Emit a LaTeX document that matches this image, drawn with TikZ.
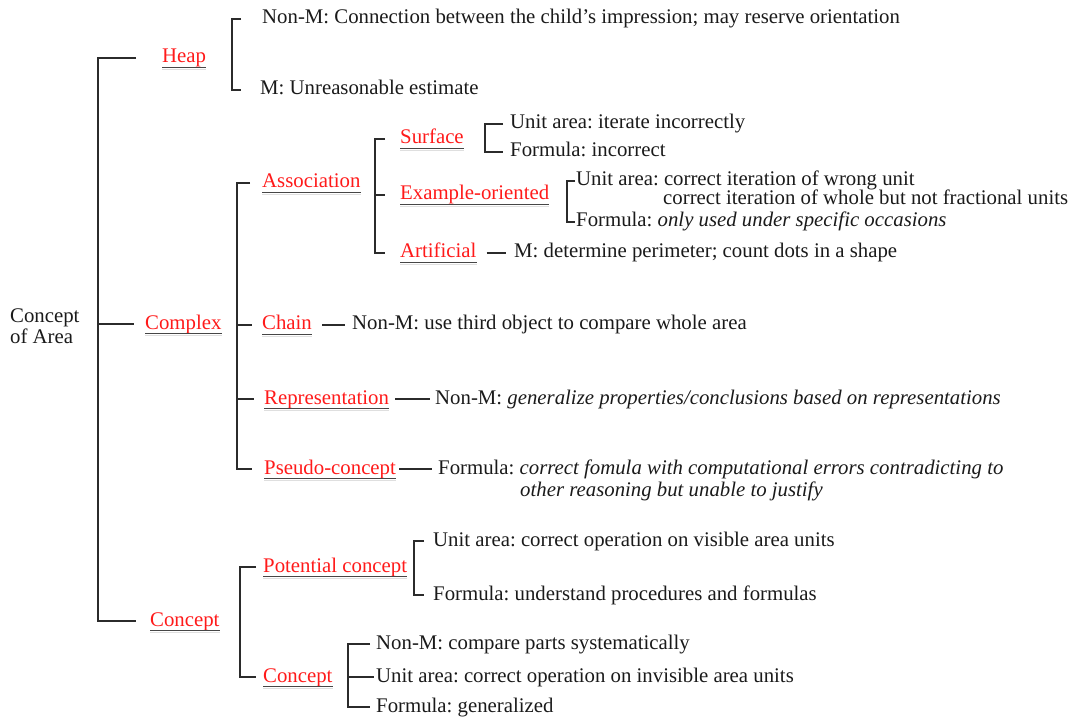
\documentclass[tikz,border=0pt]{standalone}
\usepackage{fontspec}
\setmainfont{Liberation Serif}
\usetikzlibrary{calc}
\definecolor{lblred}{HTML}{FF1A1A}
\definecolor{ln}{HTML}{2B2B2B}
\definecolor{txt}{HTML}{1A1A1A}
\frenchspacing
\begin{document}
\begin{tikzpicture}[x=1pt,y=-1pt,
  every node/.style={inner sep=0pt, anchor=west, font=\fontsize{20.8}{21}\selectfont, text=txt},
  item/.style={text height=14.5pt, text depth=4.5pt},
  lbl/.style={item, text=lblred},
  conn/.style={draw=ln, line width=2.5pt},
  uline/.style={draw=gray!55!black, line width=1.5pt},
  ushadow/.style={draw=gray!25, line width=1.5pt}]
\useasboundingbox (0,0) rectangle (1068,719);
% nodes
\node[align=left] (root) at (10,326) {Concept\\of Area};
\node[lbl] (heap) at (162,58) {Heap};
\node[lbl] (complex) at (145,324) {Complex};
\node[lbl] (concept) at (150,621) {Concept};
\node[item] (heapA) at (262,19) {Non-M: Connection between the child’s impression; may reserve orientation};
\node[item] (heapB) at (260,90) {M: Unreasonable estimate};
\node[lbl] (assoc) at (262,183) {Association};
\node[lbl] (chain) at (262,325) {Chain};
\node[lbl] (rep) at (264,399) {Representation};
\node[lbl] (pseudo) at (264,469) {Pseudo-concept};
\node[item] (chainT) at (352,325) {Non-M: use third object to compare whole area};
\node[item] (repT) at (435,399) {Non-M: \textit{generalize properties/conclusions based on representations}};
\node[item] (pseudoT) at (438,469) {Formula: \textit{correct fomula with computational errors contradicting to}};
\node[item] (pseudoT2) at (520,491) {\textit{other reasoning but unable to justify}};
\node[lbl] (surface) at (400,139) {Surface};
\node[lbl] (example) at (400,195) {Example-oriented};
\node[lbl] (artif) at (400,253) {Artificial};
\node[item] (sA) at (510,124) {Unit area: iterate incorrectly};
\node[item] (sB) at (510,152) {Formula: incorrect};
\node[item] (eA) at (576,181) {Unit area: correct iteration of wrong unit};
\node[item] (eA2) at (663,200) {correct iteration of whole but not fractional units};
\node[item] (eB) at (576,222) {Formula: \textit{only used under specific occasions}};
\node[item] (artT) at (514,253) {M: determine perimeter; count dots in a shape};
\node[lbl] (potential) at (263,567) {Potential concept};
\node[lbl] (concept2) at (263,677) {Concept};
\node[item] (pA) at (433,541) {Unit area: correct operation on visible area units};
\node[item] (pB) at (433,595) {Formula: understand procedures and formulas};
\node[item] (cA) at (376,644) {Non-M: compare parts systematically};
\node[item] (cB) at (376,677) {Unit area: correct operation on invisible area units};
\node[item] (cC) at (376,707) {Formula: generalized};
% underlines
\foreach \n in {heap,complex,concept,assoc,chain,rep,pseudo,surface,example,artif,potential,concept2}{
  \draw[ushadow] ([yshift=-1.6pt]\n.south west) -- ([yshift=-1.6pt]\n.south east);
  \draw[uline] (\n.south west) -- (\n.south east);
}
% spines
\coordinate (sp0) at (98,0);
\coordinate (sp1) at (232,0);
\coordinate (sp2) at (237,0);
\coordinate (sp3) at (375,0);
\coordinate (sp4) at (485,0);
\coordinate (sp5) at (567,0);
\coordinate (sp6) at (240,0);
\coordinate (sp7) at (414,0);
\coordinate (sp8) at (348,0);
% main bracket
\draw[conn] ($(heap.west)+(-26,0)$) -- (heap.west -| sp0) -- (concept.west -| sp0) -- ($(concept.west)+(-14,0)$);
\draw[conn] (complex.west -| sp0) -- ($(complex.west)+(-11,0)$);
% heap bracket
\draw[conn] ($(heapA.west)+(-21,0)$) -- (heapA.west -| sp1) -- (heapB.west -| sp1) -- ($(heapB.west)+(-19,0)$);
% complex bracket
\draw[conn] ($(assoc.west)+(-12,0)$) -- (assoc.west -| sp2) -- (pseudo.west -| sp2) -- ($(pseudo.west)+(-12,0)$);
\foreach \n in {chain,rep}{\draw[conn] (\n.west -| sp2) -- ($(\n.west)+(-10,0)$);}
% association bracket
\draw[conn] ($(surface.west)+(-15,0)$) -- (surface.west -| sp3) -- (artif.west -| sp3) -- ($(artif.west)+(-15,0)$);
\draw[conn] (example.west -| sp3) -- ($(example.west)+(-15,0)$);
% surface bracket
\draw[conn] ($(sA.west)+(-7,0)$) -- (sA.west -| sp4) -- (sB.west -| sp4) -- ($(sB.west)+(-7,0)$);
% example bracket
\draw[conn] ($(eA.west)+(-1,0)$) -- (eA.west -| sp5) -- (eB.west -| sp5) -- ($(eB.west)+(-1,0)$);
% dashes
\draw[conn] ($(artif.east)+(10,0)$) -- ($(artT.west)+(-8,0)$);
\draw[conn] ($(chain.east)+(10,0)$) -- ($(chainT.west)+(-7,0)$);
\draw[conn] ($(rep.east)+(6,0)$) -- ($(repT.west)+(-5,0)$);
\draw[conn] ($(pseudo.east)+(3,0)$) -- ($(pseudoT.west)+(-6,0)$);
% concept bracket
\draw[conn] ($(potential.west)+(-7,0)$) -- (potential.west -| sp6) -- (concept2.west -| sp6) -- ($(concept2.west)+(-7,0)$);
% potential bracket
\draw[conn] ($(pA.west)+(-9,0)$) -- (pA.west -| sp7) -- (pB.west -| sp7) -- ($(pB.west)+(-9,0)$);
% concept2 bracket
\draw[conn] ($(cA.west)+(-6,0)$) -- (cA.west -| sp8) -- (cC.west -| sp8) -- ($(cC.west)+(-6,0)$);
\draw[conn] (cB.west -| sp8) -- ($(cB.west)+(-2,0)$);
\end{tikzpicture}
\end{document}
